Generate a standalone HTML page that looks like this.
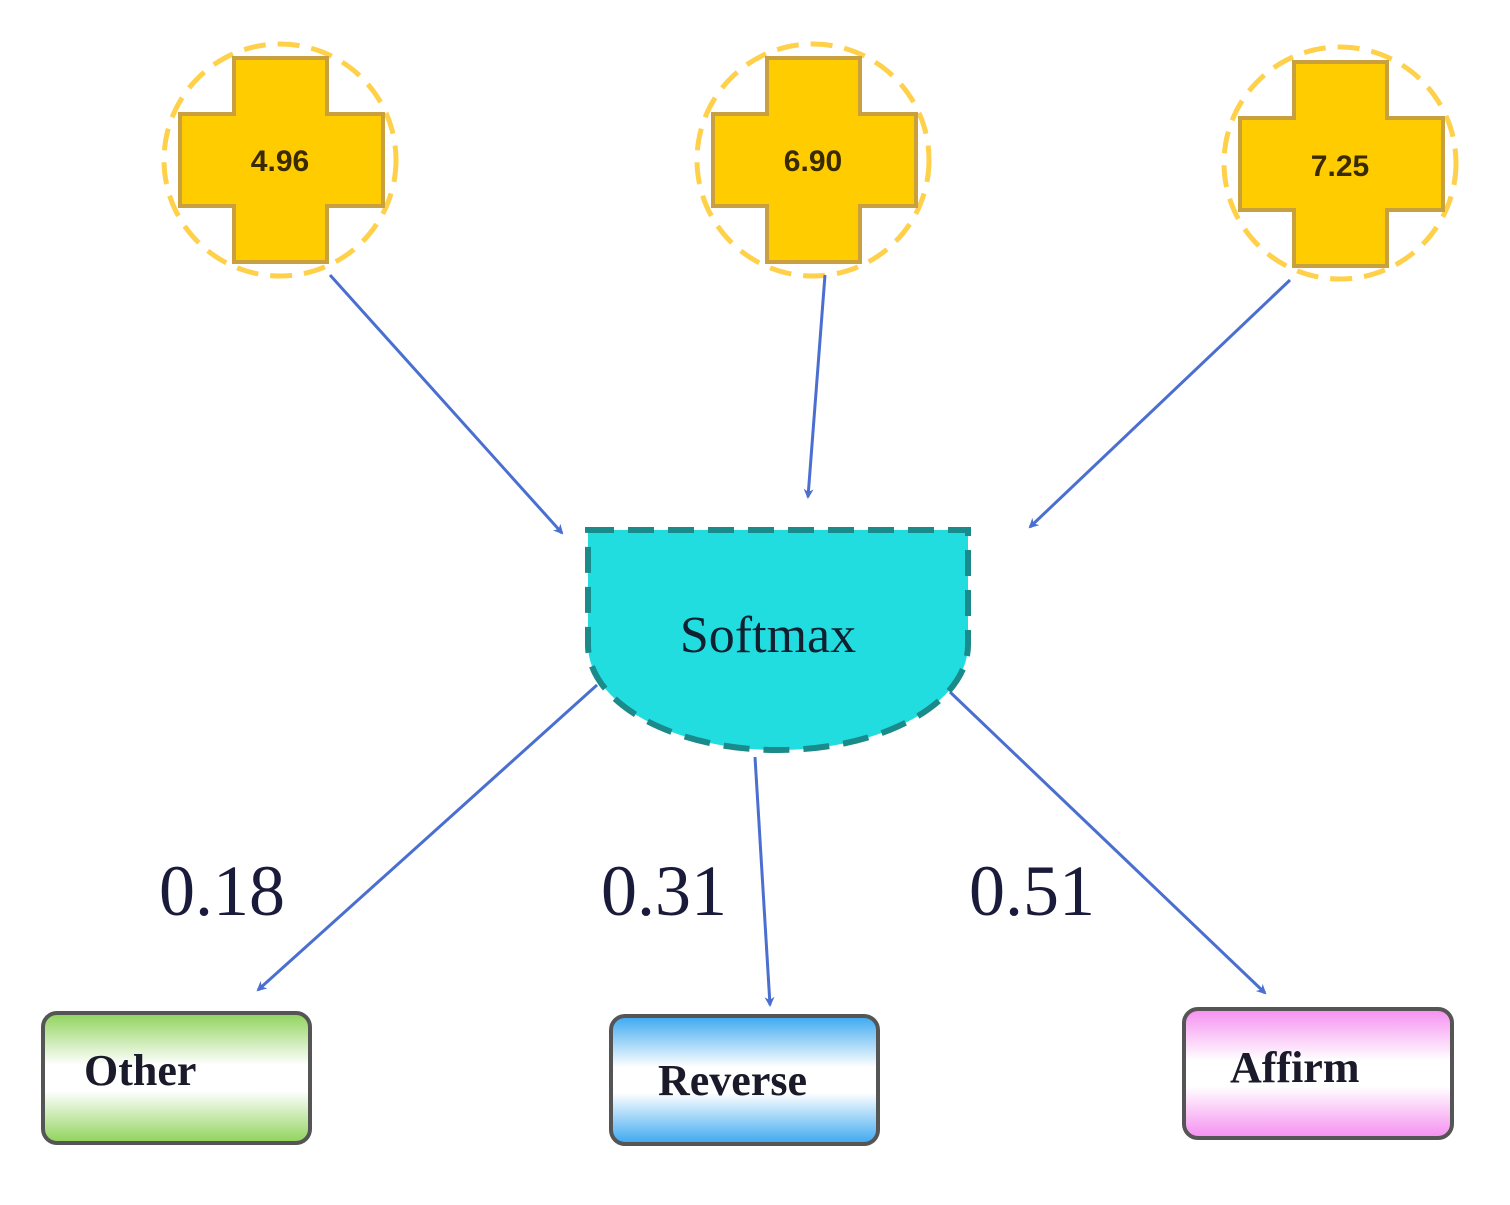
<!DOCTYPE html>
<html><head><style>body{margin:0;background:#fff}</style></head><body>
<svg width="1510" height="1200" xmlns="http://www.w3.org/2000/svg">
<defs>
<marker id="a" markerWidth="10" markerHeight="10" refX="8" refY="5" orient="auto" markerUnits="userSpaceOnUse" viewBox="0 0 10 10"><path d="M0,0 L10,5 L0,10 L3,5 Z" fill="#4a6fd0"/></marker>
<linearGradient id="g1" x1="0" y1="0" x2="0" y2="1"><stop offset="0" stop-color="#8fd35a"/><stop offset="0.4" stop-color="#fff"/><stop offset="0.6" stop-color="#fff"/><stop offset="1" stop-color="#8fd35a"/></linearGradient>
<linearGradient id="g2" x1="0" y1="0" x2="0" y2="1"><stop offset="0" stop-color="#3aa8f0"/><stop offset="0.4" stop-color="#fff"/><stop offset="0.6" stop-color="#fff"/><stop offset="1" stop-color="#3aa8f0"/></linearGradient>
<linearGradient id="g3" x1="0" y1="0" x2="0" y2="1"><stop offset="0" stop-color="#f58ef0"/><stop offset="0.4" stop-color="#fff"/><stop offset="0.6" stop-color="#fff"/><stop offset="1" stop-color="#f58ef0"/></linearGradient>
</defs>
<g stroke="#ffd04a" stroke-width="5" stroke-dasharray="22 12" fill="none">
<circle cx="280" cy="160" r="116"/><circle cx="813" cy="160" r="116"/><circle cx="1340" cy="163" r="116"/>
</g>
<g fill="#ffcc00" stroke="#c8a040" stroke-width="4">
<path d="M234,58 H327 V114 H383 V206 H327 V262 H234 V206 H180 V114 H234 Z"/>
<path d="M767,58 H860 V114 H916 V206 H860 V262 H767 V206 H713 V114 H767 Z"/>
<path d="M1294,62 H1387 V118 H1443 V210 H1387 V266 H1294 V210 H1240 V118 H1294 Z"/>
</g>
<g font-family="Liberation Sans, sans-serif" font-weight="bold" font-size="30" text-anchor="middle" fill="#3a2a00">
<text x="280" y="171">4.96</text><text x="813" y="171">6.90</text><text x="1340" y="176">7.25</text>
</g>
<g stroke="#4a6fd0" stroke-width="3" marker-end="url(#a)">
<line x1="330" y1="275" x2="562" y2="533"/>
<line x1="825" y1="275" x2="808" y2="497"/>
<line x1="1290" y1="280" x2="1030" y2="527"/>
<line x1="597" y1="685" x2="258" y2="990"/>
<line x1="755" y1="757" x2="770" y2="1005"/>
<line x1="950" y1="692" x2="1265" y2="993"/>
</g>
<path d="M588,530 L968,530 L968,645 A190,105 0 0 1 588,645 Z" fill="#22dde0" stroke="#1a8a8a" stroke-width="6" stroke-dasharray="26 14"/>
<text x="768" y="652" font-family="Liberation Serif, serif" font-size="52" text-anchor="middle" fill="#102030">Softmax</text>
<g font-family="Liberation Serif, serif" font-size="72" fill="#1a1a3a" text-anchor="middle">
<text x="222" y="915">0.18</text><text x="664" y="915">0.31</text><text x="1032" y="915">0.51</text>
</g>
<rect x="43" y="1013" width="267" height="130" rx="14" fill="url(#g1)" stroke="#555" stroke-width="4"/>
<rect x="611" y="1016" width="267" height="128" rx="14" fill="url(#g2)" stroke="#555" stroke-width="4"/>
<rect x="1184" y="1009" width="268" height="129" rx="14" fill="url(#g3)" stroke="#555" stroke-width="4"/>
<g font-family="Liberation Serif, serif" font-weight="bold" font-size="44" fill="#1a1a2a">
<text x="84" y="1085">Other</text><text x="658" y="1095">Reverse</text><text x="1230" y="1082">Affirm</text>
</g>
</svg>
</body></html>
